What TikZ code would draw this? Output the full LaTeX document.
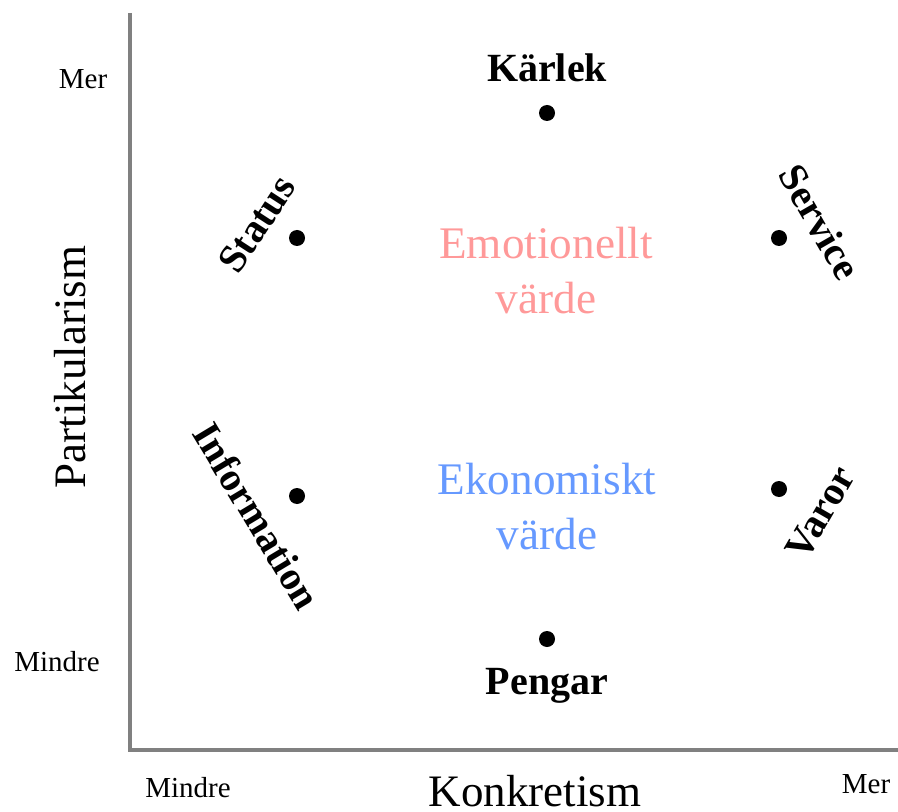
\documentclass[tikz,border=0pt]{standalone}
\usepackage{fontspec}
\setmainfont{Liberation Serif}
\definecolor{axisgray}{RGB}{128,128,128}
\definecolor{emopink}{RGB}{255,153,153}
\definecolor{ekoblue}{RGB}{102,153,255}
\usetikzlibrary{positioning}
\tikzset{
    resdot/.style={circle, fill=black, inner sep=0pt, minimum size=8pt},
    reslabel/.style={font=\bfseries\fontsize{20}{24}\selectfont, inner sep=0pt},
    endlabel/.style={font=\fontsize{14.5}{17}\selectfont, inner sep=0pt, anchor=base},
}

\begin{document}
\begin{tikzpicture}[x=0.5pt, y=-0.5pt]
    \useasboundingbox (0,0) rectangle (898,812);

    % axes
    \draw[axisgray, line width=2pt] (130,13) -- (130,750) -- (898,750);

    \node[endlabel] (ymer) at (83,89) {Mer};
    \node[endlabel] (ymindre) at (57,671) {Mindre};
    \node[endlabel] (xmindre) at (188,797) {Mindre};
    \node[endlabel] (xmer) at (866,793) {Mer};
    \node[font=\fontsize{22.5}{27}\selectfont, inner sep=0pt, anchor=base] (xaxis) at (535,806) {Konkretism};
    \node[font=\fontsize{22.5}{27}\selectfont, inner sep=0pt, anchor=base, rotate=90] (yaxis) at (85,367) {Partikularism};

    % resources
    \node[resdot] (karlek) at (547,113) {};
    \node[resdot] (status) at (297,238) {};
    \node[resdot] (service) at (779,238) {};
    \node[resdot] (information) at (297,496) {};
    \node[resdot] (varor) at (779,489) {};
    \node[resdot] (pengar) at (547,639) {};

    \node[reslabel, anchor=base] (karlekl) at (547,82) {Kärlek};
    \node[reslabel, anchor=base] (pengarl) at (547,694) {Pengar};
    \node[reslabel, rotate=57] (statusl) at (257,224) {Status};
    \node[reslabel, rotate=-60] (servicel) at (820,222) {Service};
    \node[reslabel, rotate=-59] (informationl) at (257,516) {Information};
    \node[reslabel, rotate=60] (varorl) at (820,513) {Varor};

    % values
    \node[font=\fontsize{22.6}{27.5}\selectfont, text=emopink, align=center, inner sep=0pt] (emo) at (546,271) {Emotionellt\\värde};
    \node[font=\fontsize{22.6}{27.5}\selectfont, text=ekoblue, align=center, inner sep=0pt] (eko) at (547,507) {Ekonomiskt\\värde};
\end{tikzpicture}
\end{document}
